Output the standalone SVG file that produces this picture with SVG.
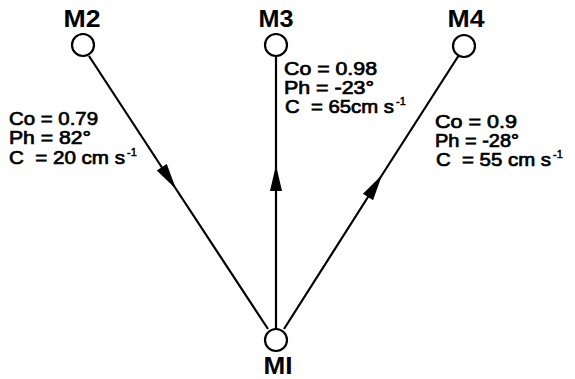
<svg xmlns="http://www.w3.org/2000/svg" width="575" height="379" viewBox="0 0 575 379">
<style>
.node circle{fill:#fff;stroke:#000;stroke-width:2.2}
.nl{font-family:"Liberation Sans",Arial,sans-serif;font-weight:bold;font-size:23px;text-anchor:middle;fill:#000}
.t{font-family:"Liberation Sans",Arial,sans-serif;font-size:18px;fill:#000;stroke:#000;stroke-width:0.7;white-space:pre}
.sup{font-family:"Liberation Sans",Arial,sans-serif;font-size:11px;fill:#000;stroke:#000;stroke-width:0.5}
.conn path{fill:none;stroke:#000;stroke-width:2.2;marker-mid:url(#ah)}
</style>
<defs>
<marker id="ah" markerUnits="userSpaceOnUse" viewBox="-28 -8 30 16" refX="0" refY="0" markerWidth="30" markerHeight="16" orient="auto">
<path d="M0,0 L-26,-6 L-26,6 Z" fill="#000"/>
</marker>
</defs>
<g id="connectors" class="conn">
<path id="c-m2-m1" d="M89,56 L176,189 L268,329"/>
<path id="c-m1-m3" d="M276,329 L276,165 L276,57"/>
<path id="c-m1-m4" d="M284,329 L382,175 L459,55"/>
</g>
<g id="M2" class="node">
<circle cx="83" cy="45" r="11"/>
<text class="nl" x="82" y="27" textLength="37" lengthAdjust="spacingAndGlyphs">M2</text>
</g>
<g id="M3" class="node">
<circle cx="276" cy="45" r="11"/>
<text class="nl" x="276" y="27" textLength="35" lengthAdjust="spacingAndGlyphs">M3</text>
</g>
<g id="M4" class="node">
<circle cx="464" cy="46" r="11"/>
<text class="nl" x="466" y="27" textLength="37" lengthAdjust="spacingAndGlyphs">M4</text>
</g>
<g id="M1" class="node">
<circle cx="276" cy="340" r="11"/>
<text class="nl" x="278" y="374" textLength="29" lengthAdjust="spacingAndGlyphs">MI</text>
</g>
<g id="label-m2">
<text class="t" x="9" y="125" textLength="89" lengthAdjust="spacingAndGlyphs">Co = 0.79</text>
<text class="t" x="9" y="144" textLength="82" lengthAdjust="spacingAndGlyphs">Ph = 82°</text>
<text class="t" x="9" y="164" textLength="116" lengthAdjust="spacingAndGlyphs" xml:space="preserve">C  = 20 cm s</text>
<text class="sup" x="127" y="156">-1</text>
</g>
<g id="label-m3">
<text class="t" x="284" y="75" textLength="93" lengthAdjust="spacingAndGlyphs">Co = 0.98</text>
<text class="t" x="284" y="94" textLength="90" lengthAdjust="spacingAndGlyphs">Ph = -23°</text>
<text class="t" x="285" y="113" textLength="109" lengthAdjust="spacingAndGlyphs" xml:space="preserve">C  = 65cm s</text>
<text class="sup" x="396" y="105">-1</text>
</g>
<g id="label-m4">
<text class="t" x="435" y="128" textLength="82" lengthAdjust="spacingAndGlyphs">Co = 0.9</text>
<text class="t" x="435" y="147" textLength="84" lengthAdjust="spacingAndGlyphs">Ph = -28°</text>
<text class="t" x="436" y="166" textLength="115" lengthAdjust="spacingAndGlyphs" xml:space="preserve">C  = 55 cm s</text>
<text class="sup" x="553" y="158">-1</text>
</g>
</svg>
